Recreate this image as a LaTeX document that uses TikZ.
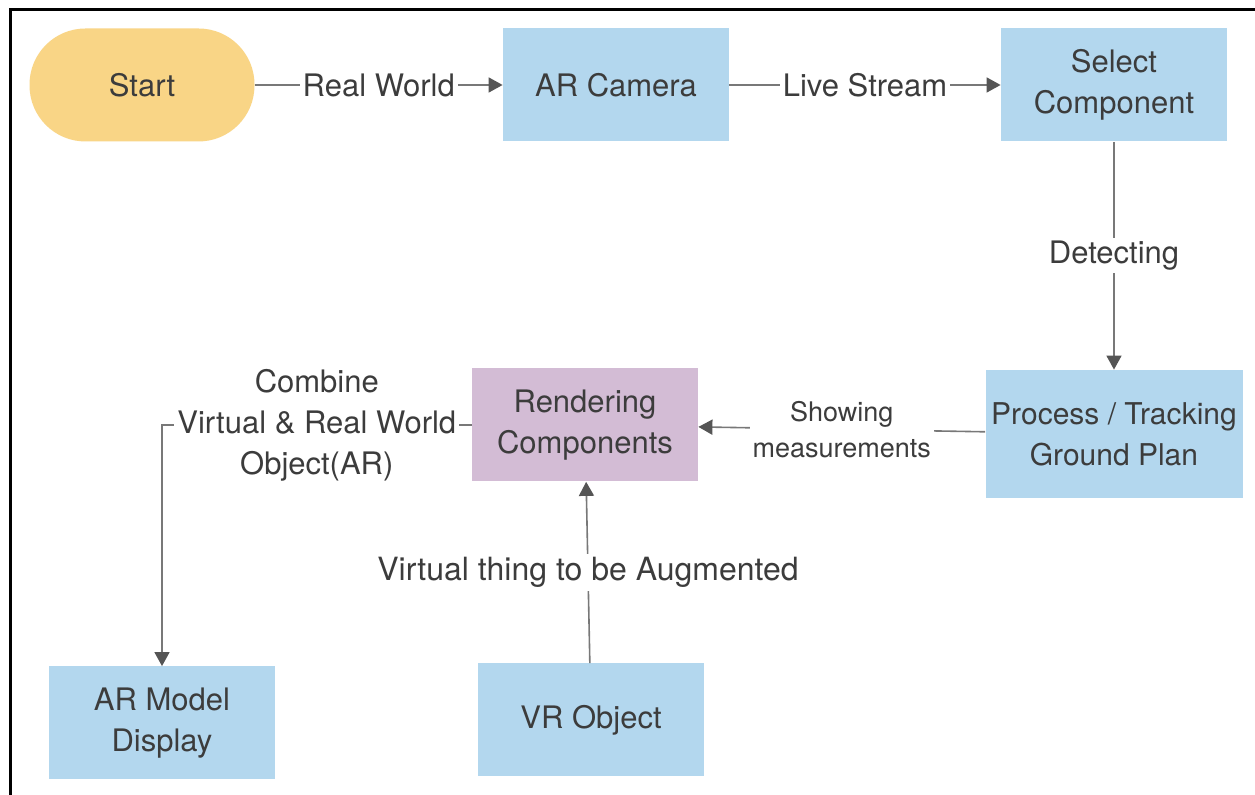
\documentclass[tikz,border=0pt]{standalone}
\usepackage{fontspec}
\setmainfont{TeX Gyre Heros}
\usetikzlibrary{arrows.meta}
\definecolor{startyellow}{RGB}{249,213,134}
\definecolor{boxblue}{RGB}{179,215,238}
\definecolor{boxpurple}{RGB}{211,188,213}
\definecolor{txtgray}{RGB}{60,60,60}
\definecolor{linegray}{RGB}{120,120,120}
\definecolor{tipgray}{RGB}{85,85,85}
\tikzset{
  startbox/.style={fill=startyellow, rounded corners=28pt, minimum width=112.5pt, minimum height=56.5pt, text=txtgray, font=\fontsize{15.5}{20.5}\selectfont},
  bluebox/.style={fill=boxblue, minimum width=113pt, minimum height=56.5pt, text=txtgray, align=center, font=\fontsize{15.5}{20.5}\selectfont},
  purplebox/.style={bluebox, fill=boxpurple},
  arr/.style={draw=linegray, line width=0.8pt, -{Triangle[length=7pt,width=7.5pt,color=tipgray]}},
  lbl/.style={fill=white, text=txtgray, inner sep=1.5pt, align=center, font=\fontsize{15.5}{20.5}\selectfont},
  smalllbl/.style={lbl, font=\fontsize{13.5}{18}\selectfont},
}
\begin{document}
\begin{tikzpicture}[x=0.5pt,y=0.5pt]
		%%%%% START %%%%%
		\useasboundingbox (0,0) rectangle (1255,795);
		\fill[white] (0,0) rectangle (1255,795);
		
		% frame
		\draw[line width=1.5pt] (10,0) -- (10,785) -- (1255,785);
		
		% top row
		\node[startbox] (start) at (142,710) {Start};
		\node[bluebox] (camera) at (616,710) {AR Camera};
		\node[bluebox] (select) at (1114,710) {Select\\Component};
		
		% middle row
		\node[bluebox, font=\fontsize{15}{20.5}\selectfont, inner xsep=1pt, minimum width=128.5pt, minimum height=64pt] (track) at (1114,361) {Process / Tracking\\Ground Plan};
		\node[purplebox] (render) at (585,370) {Rendering\\Components};
		
		% bottom row
		\node[bluebox] (display) at (162,72) {AR Model\\Display};
		\node[bluebox] (vrobj) at (591,75) {VR Object};
		\coordinate (bend) at (display |- render);
		
		% connectors
		\draw[arr] (start) -- node[lbl] {Real World} (camera);
		\draw[arr] (camera) -- node[lbl] {Live Stream} (select);
		\draw[arr] (select) -- node[lbl] {Detecting} (track);
		\draw[arr] (track) -- node[smalllbl] {Showing\\measurements} (render);
		\draw[arr] (vrobj) -- node[lbl, font=\fontsize{16}{20.5}\selectfont] {Virtual thing to be Augmented} (render);
		\draw[arr] (render) -- node[lbl] {Combine\\Virtual \& Real World\\Object(AR)} (bend) -- (display);
		
		%%%%% END %%%%%
	\end{tikzpicture}
\end{document}
